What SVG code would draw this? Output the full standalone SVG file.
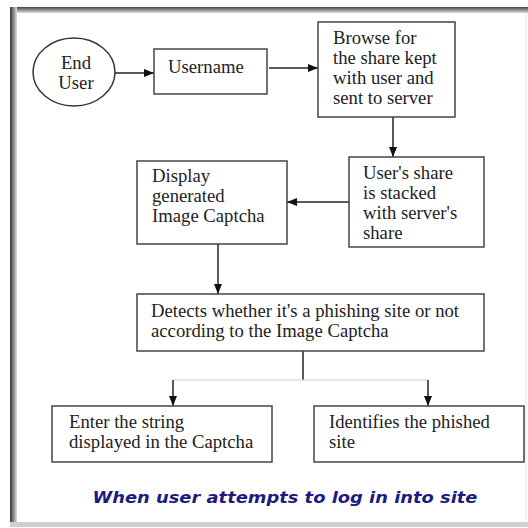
<svg xmlns="http://www.w3.org/2000/svg" width="528" height="528" viewBox="0 0 528 528">
  <defs>
    <marker id="ah" markerWidth="10" markerHeight="10" refX="10" refY="5" orient="auto" markerUnits="userSpaceOnUse">
      <path d="M0,1 L10,5 L0,9 Z" fill="#111"/>
    </marker>
    <linearGradient id="gTop" x1="0" y1="0" x2="0" y2="1">
      <stop offset="0" stop-color="#444"/>
      <stop offset="1" stop-color="#ddd"/>
    </linearGradient>
    <linearGradient id="gLeft" x1="0" y1="0" x2="1" y2="0">
      <stop offset="0" stop-color="#333"/>
      <stop offset="1" stop-color="#ddd"/>
    </linearGradient>
  </defs>
  <style>
    .box { fill: #fff; stroke: #444; stroke-width: 1.5; }
    .t { font-family: "Liberation Serif", "Times New Roman", serif; font-size: 18.7px; fill: #222; }
    .c { fill: none; stroke: #222; stroke-width: 1.5; }
    .cap { font-family: "DejaVu Sans", Verdana, sans-serif; font-size: 15px; font-weight: bold; font-style: italic; fill: #1c1c80; }
  </style>
  <rect x="0" y="0" width="528" height="528" fill="#fff"/>
  <g id="frame">
    <rect x="10" y="7" width="518" height="6" fill="url(#gTop)"/>
    <rect x="10" y="7" width="7" height="520" fill="url(#gLeft)"/>
    <rect x="10" y="522" width="518" height="5" fill="#d0d0d0"/>
    <line x1="526" y1="13" x2="526" y2="522" stroke="#e6e6e6" stroke-width="1"/>
  </g>
  <g id="connectors">
    <line class="c" x1="115" y1="73" x2="154" y2="73" marker-end="url(#ah)"/>
    <line class="c" x1="269" y1="68" x2="318" y2="68" marker-end="url(#ah)"/>
    <line class="c" x1="393" y1="117" x2="393" y2="157" marker-end="url(#ah)"/>
    <line class="c" x1="349" y1="202" x2="287" y2="202" marker-end="url(#ah)"/>
    <line class="c" x1="218" y1="244" x2="218" y2="294" marker-end="url(#ah)"/>
    <line class="c" x1="303" y1="351" x2="303" y2="380"/>
    <line x1="173" y1="380" x2="428" y2="380" stroke="#ccc" stroke-width="1"/>
    <line class="c" x1="173" y1="380" x2="173" y2="406" marker-end="url(#ah)"/>
    <line class="c" x1="428" y1="380" x2="428" y2="406" marker-end="url(#ah)"/>
  </g>
  <g id="end-user">
    <ellipse cx="74" cy="72" rx="41" ry="34" fill="#fff" stroke="#333" stroke-width="1.5"/>
    <text class="t" x="76" y="69" text-anchor="middle">End</text>
    <text class="t" x="76" y="89" text-anchor="middle">User</text>
  </g>
  <g id="username">
    <rect class="box" x="154" y="49" width="113" height="45"/>
    <text class="t" x="168" y="73">Username</text>
  </g>
  <g id="browse">
    <rect class="box" x="318" y="22" width="137" height="95"/>
    <text class="t" x="333" y="44">Browse for</text>
    <text class="t" x="333" y="64">the share kept</text>
    <text class="t" x="333" y="84">with user and</text>
    <text class="t" x="333" y="104">sent to server</text>
  </g>
  <g id="users-share">
    <rect class="box" x="349" y="157" width="135" height="90"/>
    <text class="t" x="363" y="179">User's share</text>
    <text class="t" x="363" y="199">is stacked</text>
    <text class="t" x="363" y="219">with server's</text>
    <text class="t" x="363" y="239">share</text>
  </g>
  <g id="display">
    <rect class="box" x="137" y="161" width="150" height="83"/>
    <text class="t" x="152" y="182">Display</text>
    <text class="t" x="152" y="202">generated</text>
    <text class="t" x="152" y="222">Image Captcha</text>
  </g>
  <g id="detects">
    <rect class="box" x="137" y="294" width="347" height="57"/>
    <text class="t" x="151" y="317">Detects whether it's a phishing site or not</text>
    <text class="t" x="151" y="337">according to the Image Captcha</text>
  </g>
  <g id="enter-string">
    <rect class="box" x="52" y="406" width="220" height="56"/>
    <text class="t" x="69" y="428">Enter the string</text>
    <text class="t" x="69" y="448">displayed in the Captcha</text>
  </g>
  <g id="identifies">
    <rect class="box" x="314" y="406" width="210" height="56"/>
    <text class="t" x="329" y="428">Identifies the phished</text>
    <text class="t" x="329" y="448">site</text>
  </g>
  <g id="caption">
    <text class="cap" x="285" y="503" text-anchor="middle" textLength="385" lengthAdjust="spacingAndGlyphs">When user attempts to log in into site</text>
  </g>
</svg>
